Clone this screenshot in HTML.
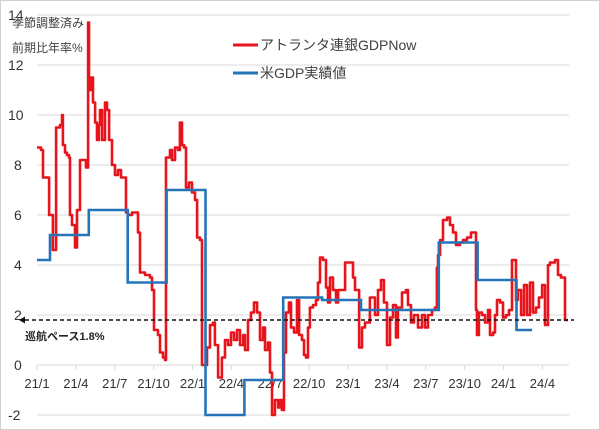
<!DOCTYPE html>
<html><head><meta charset="utf-8"><style>
body{margin:0;background:#fff}
svg{display:block;font-family:"Liberation Sans","Noto Sans CJK JP",sans-serif}
</style></head><body>
<svg id="chart" width="600" height="430" viewBox="0 0 600 430">
<rect x="0.5" y="0.5" width="599" height="429" fill="#fff" stroke="#d0d0d0"/>
<g id="grid"></g><g id="axes"></g><g id="series"></g>
<text x="12" y="27" font-size="12" fill="#404040">季節調整済み</text>
<text x="12" y="52" font-size="12" fill="#404040">前期比年率%</text>
<g>
<line x1="233" y1="45" x2="258" y2="45" stroke="#e8141c" stroke-width="3"/>
<text x="260" y="50" font-size="14" fill="#404040">アトランタ連銀GDPNow</text>
<line x1="233" y1="73" x2="258" y2="73" stroke="#2574b8" stroke-width="3"/>
<text x="260" y="78" font-size="14" fill="#404040">米GDP実績値</text>
</g>
<text x="25" y="340" font-size="11" font-weight="bold" fill="#222">巡航ペース1.8%</text>
</svg>
<script>
const yTicks=[-2,0,2,4,6,8,10,12,14];
const xTickLabels=["21/1","21/4","21/7","21/10","22/1","22/4","22/7","22/10","23/1","23/4","23/7","23/10","24/1","24/4"];
const xTickMonths=[0,3,6,9,12,15,18,21,24,27,30,33,36,39];
const cruisePace=1.8;
const nowMonths=[0,.31,.46,.77,.93,1.23,1.47,1.77,1.93,2.0,2.16,2.31,2.47,2.55,2.7,2.93,3.09,3.32,3.55,3.78,3.94,4.01,4.17,4.32,4.48,4.63,4.78,4.86,5.02,5.25,5.4,5.56,5.79,6.02,6.25,6.48,6.71,6.87,7.02,7.33,7.79,7.95,8.33,8.72,8.87,9.03,9.34,9.49,9.72,9.88,9.95,10.26,10.42,10.65,10.88,11.03,11.19,11.34,11.5,11.73,11.96,12.19,12.35,12.58,12.73,13.12,13.35,13.58,13.73,13.97,14.27,14.51,14.74,14.97,15.2,15.43,15.66,15.9,16.05,16.28,16.51,16.74,16.98,17.21,17.44,17.59,17.82,17.98,18.13,18.36,18.6,18.75,18.9,19.06,19.21,19.44,19.6,19.83,20.06,20.22,20.45,20.6,20.76,20.91,21.06,21.3,21.53,21.68,21.84,22.07,22.3,22.45,22.61,22.84,23.07,23.23,23.77,24.15,24.38,24.54,24.85,25.08,25.31,25.69,26.08,26.31,26.54,26.77,27.01,27.24,27.47,27.7,27.85,28.16,28.47,28.63,28.86,29.09,29.4,29.71,29.94,30.17,30.48,30.71,30.86,30.94,31.1,31.33,31.64,31.87,32.1,32.33,32.64,32.87,33.18,33.49,33.72,33.87,33.95,34.1,34.34,34.57,34.8,34.95,35.19,35.34,35.49,35.73,35.96,36.19,36.42,36.65,36.96,37.11,37.35,37.58,37.81,38.04,38.27,38.5,38.73,38.97,39.2,39.43,39.58,39.97,40.2,40.43,40.74,40.97];
const nowValues=[8.7,8.6,7.5,7.5,6.0,4.6,9.5,9.6,10.0,8.8,8.5,8.4,8.3,6.0,5.6,4.7,6.2,8.2,8.2,7.9,13.7,11.0,11.5,10.5,9.7,9.0,9.6,10.2,9.0,10.5,10.2,9.0,8.0,7.6,7.8,7.5,7.5,6.1,6.0,6.1,5.3,3.7,3.6,3.5,3.0,1.4,1.2,0.5,0.3,0.2,8.3,8.6,8.2,8.7,8.6,9.7,8.8,8.7,7.1,7.3,6.9,6.6,5.1,5.0,0.0,0.7,1.6,1.7,0.8,-0.5,0.3,1.0,0.8,1.3,1.0,1.4,0.8,1.2,0.6,1.8,2.1,2.5,2.1,1.0,1.5,0.6,0.9,-0.3,-2.0,-1.4,-1.7,-1.4,-1.8,0.5,2.1,2.5,1.5,1.3,2.6,1.2,1.0,0.4,0.3,1.5,2.3,2.4,2.6,3.3,4.3,4.2,3.1,2.5,3.5,3.0,2.5,3.0,4.1,4.1,3.5,3.0,0.7,1.5,1.7,2.7,2.0,3.0,3.4,2.5,0.8,1.9,2.4,1.1,2.3,2.9,3.0,2.4,1.7,2.0,1.5,2.0,1.5,2.0,2.2,2.3,3.9,4.4,5.0,5.8,5.9,5.6,5.3,4.8,4.9,5.0,5.1,5.3,5.3,2.2,1.2,2.1,2.0,1.7,2.2,1.2,1.3,2.0,2.6,2.5,1.9,2.0,2.2,4.2,2.6,3.0,2.0,3.2,2.0,3.3,2.1,2.3,2.7,3.2,1.6,4.0,4.1,4.2,3.6,3.5,1.8];
const gdpStartMonths=[0,1,4,7,10,13,16,19,22,25,31,34,37];
const gdpValues=[4.2,5.2,6.2,3.3,7.0,-2.0,-0.6,2.7,2.6,2.2,4.9,3.4,1.4];
const gdpEndMonth=38.2;

const NS="http://www.w3.org/2000/svg";
const X0=37,PXM=12.96,Y0=365,PXU=25;
const xs=m=>X0+m*PXM, ys=v=>Y0-v*PXU;
function mk(t,a,p){const e=document.createElementNS(NS,t);for(const k in a)e.setAttribute(k,a[k]);p.appendChild(e);return e;}
const grid=document.getElementById('grid'),axes=document.getElementById('axes'),ser=document.getElementById('series');
yTicks.forEach(v=>{
 if(v!==0){const g=mk('line',{x1:37,x2:569,y1:ys(v),y2:ys(v),stroke:'#d9d9d9','stroke-width':1},grid);
 
 }
 const t=mk('text',{x:v<0?8:(v>=10?8:14),y:ys(v)+5,'font-size':14,fill:'#333'},axes);
 t.textContent=v;
 
 
});
const ax=mk('line',{x1:37,x2:569,y1:Y0,y2:Y0,stroke:'#d9d9d9','stroke-width':1},axes);


xTickMonths.forEach((m,i)=>{
 const tk=mk('line',{x1:xs(m),x2:xs(m),y1:Y0,y2:Y0+5,stroke:'#d9d9d9'},axes);
 
 
 const t=mk('text',{x:xs(m),y:Y0+23,'font-size':13,fill:'#333','text-anchor':'middle'},axes);
 t.textContent=xTickLabels[i];
 
 
});
// red step line
let d='M'+xs(nowMonths[0])+','+ys(nowValues[0]);
for(let i=1;i<nowMonths.length;i++){d+=' H'+xs(nowMonths[i]).toFixed(1)+' V'+ys(nowValues[i]).toFixed(1);}
const red=mk('path',{d:d,fill:'none',stroke:'#e8141c','stroke-width':2.6,'stroke-linejoin':'round'},ser);


// blue step line
let b='M'+xs(gdpStartMonths[0])+','+ys(gdpValues[0]);
for(let i=1;i<gdpStartMonths.length;i++){b+=' H'+xs(gdpStartMonths[i]).toFixed(1)+' V'+ys(gdpValues[i]).toFixed(1);}
b+=' H'+xs(gdpEndMonth).toFixed(1);
const blue=mk('path',{d:b,fill:'none',stroke:'#2574b8','stroke-width':2.6},ser);


// cruise pace
const dl=mk('line',{x1:25,x2:574,y1:ys(cruisePace),y2:ys(cruisePace),stroke:'#111','stroke-width':1.5,'stroke-dasharray':'4,3'},ser);


const ar=mk('path',{d:`M19,${ys(cruisePace)} l6,-3.5 v7 z`,fill:'#111'},ser);


</script>
</body></html>
